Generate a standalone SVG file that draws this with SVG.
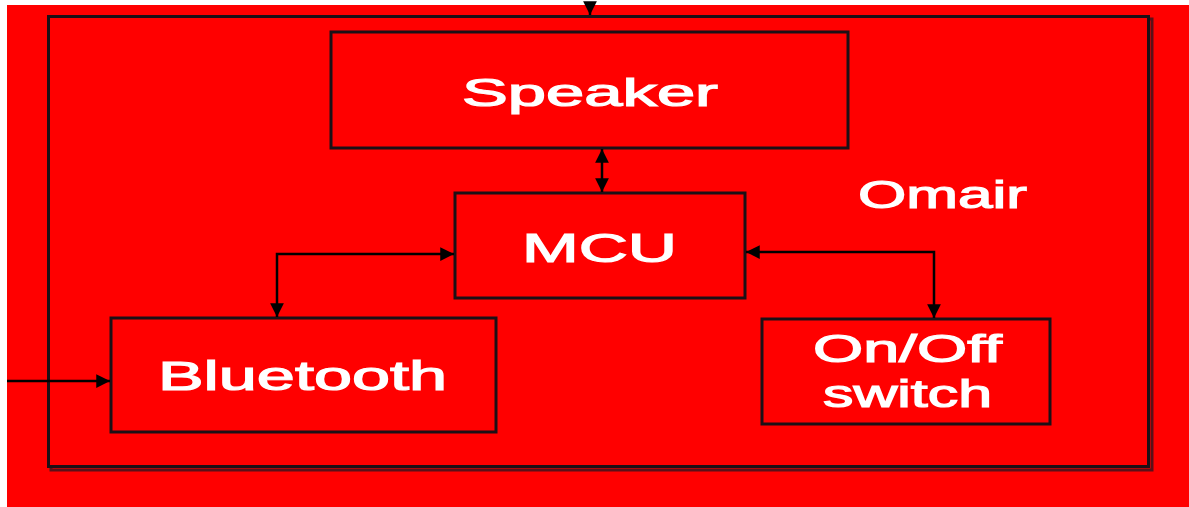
<svg xmlns="http://www.w3.org/2000/svg" width="1189" height="507" viewBox="0 0 1189 507">
<defs>
<style>
.box{fill:#ff0000;stroke:#1c1016;stroke-width:3}
.lbl{font-family:"Liberation Sans",Arial,sans-serif;font-size:38px;fill:#ffffff;stroke:#ffffff;stroke-width:1.2}
.con{fill:none;stroke:#000;stroke-width:2.5}
</style>
<marker id="ah" viewBox="0 0 10 10" refX="10" refY="5" markerWidth="5.5" markerHeight="5.5" orient="auto-start-reverse" markerUnits="strokeWidth">
<path d="M0,0 L10,5 L0,10 z" fill="#000"/>
</marker>
</defs>
<rect width="1189" height="507" fill="#ffffff"/>
<rect x="7" y="5" width="1182" height="502" fill="#ff0000"/>
<g id="frame">
<rect x="51" y="19" width="1101" height="451" fill="none" stroke="#5a1018" stroke-width="3"/>
<rect x="48.5" y="16.5" width="1100" height="450" class="box" fill="none"/>
</g>
<g id="speaker">
<rect x="331" y="32" width="517" height="116" class="box"/>
<text x="462" y="106" class="lbl" style="font-size:39px" textLength="256" lengthAdjust="spacingAndGlyphs">Speaker</text>
</g>
<g id="mcu">
<rect x="455" y="193" width="290" height="105" class="box"/>
<text x="522" y="262" class="lbl" style="font-size:41px" textLength="155" lengthAdjust="spacingAndGlyphs">MCU</text>
</g>
<g id="bluetooth">
<rect x="111" y="318" width="385" height="114" class="box"/>
<text x="158" y="390" class="lbl" style="font-size:41px" textLength="289" lengthAdjust="spacingAndGlyphs">Bluetooth</text>
</g>
<g id="onoff">
<rect x="762" y="319" width="288" height="105" class="box"/>
<text x="813" y="362" class="lbl" textLength="189" lengthAdjust="spacingAndGlyphs">On/Off</text>
<text x="823" y="407" class="lbl" textLength="169" lengthAdjust="spacingAndGlyphs">switch</text>
</g>
<g id="omair">
<text x="858" y="208" class="lbl" textLength="169" lengthAdjust="spacingAndGlyphs">Omair</text>
</g>
<g id="connectors">
<path class="con" d="M590,5 L590,15" marker-end="url(#ah)"/>
<path class="con" d="M602,149 L602,192" marker-start="url(#ah)" marker-end="url(#ah)"/>
<path class="con" d="M277,317 L277,254 L454,254" marker-start="url(#ah)" marker-end="url(#ah)"/>
<path class="con" d="M746,252 L934,252 L934,318" marker-start="url(#ah)" marker-end="url(#ah)"/>
<path class="con" d="M7,381 L110,381" marker-end="url(#ah)"/>
</g>
</svg>
